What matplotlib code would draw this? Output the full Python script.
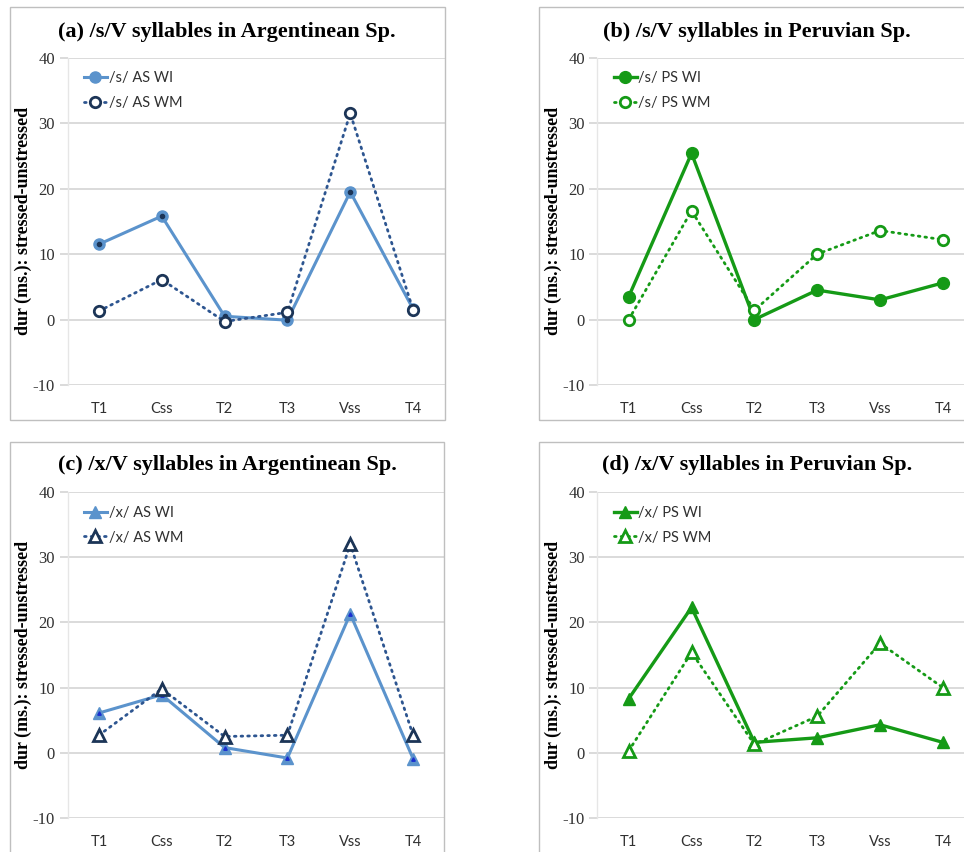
import matplotlib.pyplot as plt
from matplotlib.patches import Rectangle

plt.rcParams["axes.unicode_minus"] = False

categories = ["T1", "Css", "T2", "T3", "Vss", "T4"]

# (a) /s/ Argentinean
s_as_wi = [11.5, 15.8, 0.5, -0.1, 19.5, 1.6]
s_as_wm = [1.3, 6.1, -0.3, 1.1, 31.5, 1.5]
# (b) /s/ Peruvian
s_ps_wi = [3.5, 25.4, 0.0, 4.5, 3.0, 5.6]
s_ps_wm = [0.0, 16.6, 1.4, 10.0, 13.6, 12.2]
# (c) /x/ Argentinean
x_as_wi = [6.1, 8.9, 0.8, -0.8, 21.3, -0.9]
x_as_wm = [2.7, 9.8, 2.5, 2.7, 32.0, 2.7]
# (d) /x/ Peruvian
x_ps_wi = [8.3, 22.3, 1.6, 2.3, 4.3, 1.6]
x_ps_wm = [0.3, 15.4, 1.3, 5.6, 16.8, 10.0]

titles = ["(a) /s/V syllables in Argentinean Sp.",
          "(b) /s/V syllables in Peruvian Sp.",
          "(c) /x/V syllables in Argentinean Sp.",
          "(d) /x/V syllables in Peruvian Sp."]
labels = [("/s/ AS WI", "/s/ AS WM"), ("/s/ PS WI", "/s/ PS WM"),
          ("/x/ AS WI", "/x/ AS WM"), ("/x/ PS WI", "/x/ PS WM")]
ylabel = "dur (ms.): stressed-unstressed"

lightblue = "#5b93cc"
navy = "#1c3557"
dotblue = "#2d5590"
green = "#159a16"
SERIF = "Liberation Serif"
SANS = "Lato"

W, H = 964, 852
fig = plt.figure(figsize=(W / 100, H / 100), dpi=100)


def fx(px):
    return px / W


def fy(py):
    return 1 - py / H


# panel frames (left, top, right, bottom) in pixels
frames = [(10, 7, 445, 420), (539, 7, 1000, 420), (10, 442, 444, 900), (539, 442, 1000, 900)]
for l, t, r, b in frames:
    fig.patches.append(Rectangle((fx(l), fy(b)), fx(r - l), fy(t) - fy(b),
                                 transform=fig.transFigure, fill=False,
                                 edgecolor="#bfbfbf", lw=1.0, zorder=0))

# axes: left px, top px (y=40), bottom px (y=-10)
axpos = [(67.5, 57.7, 385), (597.3, 57.7, 385), (67.5, 492, 818), (597.3, 492, 818)]
width_px = 377
title_pos = [(227, 32), (757, 32), (227, 465), (757, 465)]
ylab_x = [23, 553, 23, 553]

data = [(s_as_wi, s_as_wm), (s_ps_wi, s_ps_wm), (x_as_wi, x_as_wm), (x_ps_wi, x_ps_wm)]

for i in range(4):
    l, t, b = axpos[i]
    ax = fig.add_axes([fx(l), fy(b), fx(width_px), fy(t) - fy(b)])
    wi, wm = data[i]
    xs = range(len(categories))
    marker = "o" if i < 2 else "^"
    if i % 2 == 0:
        ax.plot(xs, wi, color=lightblue, lw=2.2, marker=marker, ms=8 if marker == "o" else 8.5,
                mfc=lightblue, mec=lightblue, label=labels[i][0], zorder=3)
        ax.plot(xs, wi, ls="none", marker="o" if marker == "o" else "^",
                ms=3 if marker == "o" else 2.5, color=navy if marker == "o" else "#1a2fd0", zorder=4)
        ax.plot(xs, wm, color=dotblue, lw=2, ls=(0, (0.6, 1.8)), dash_capstyle="round",
                marker=marker, ms=7.5 if marker == "o" else 8, mfc="white", mec=navy, mew=2,
                label=labels[i][1], zorder=5)
    else:
        ax.plot(xs, wi, color=green, lw=2.4, marker=marker, ms=8.5 if marker == "o" else 9,
                mfc=green, mec=green, label=labels[i][0], zorder=3)
        ax.plot(xs, wm, color=green, lw=2, ls=(0, (0.6, 1.8)), dash_capstyle="round",
                marker=marker, ms=7.5 if marker == "o" else 8, mfc="white", mec=green, mew=2,
                label=labels[i][1], zorder=4)

    ax.set_xlim(-0.5, 5.5)
    ax.set_ylim(-10, 40)
    ax.set_yticks([-10, 0, 10, 20, 30, 40])
    ax.yaxis.grid(True, color="#d4d4d4", lw=1.2)
    ax.set_axisbelow(True)
    for s in ["top", "right", "bottom"]:
        ax.spines[s].set_visible(False)
    ax.spines["left"].set_color("#e6e6e6")
    ax.spines["left"].set_linewidth(1.0)
    ax.set_xticks(list(xs))
    ax.set_xticklabels(categories, family=SANS, fontsize=10.5, color="#303030")
    ax.tick_params(axis="x", length=0, pad=12)
    ax.tick_params(axis="y", length=6, color="#d4d4d4", width=1.2, pad=3,
                   labelsize=12, labelcolor="#303030")
    for lab in ax.get_yticklabels():
        lab.set_family(SERIF)
    ax.set_facecolor("none")

    leg = ax.legend(loc="upper left", frameon=False, prop={"family": SANS, "size": 10.5},
                    handlelength=1.6, handletextpad=0.1, labelspacing=0.75,
                    bbox_to_anchor=(0.02, 0.985), borderaxespad=0.2)
    for txt in leg.get_texts():
        txt.set_color("#303030")

    tx, ty = title_pos[i]
    fig.text(fx(tx), fy(ty), titles[i], ha="center", va="center", family=SERIF,
             weight="bold", fontsize=16)
    fig.text(fx(ylab_x[i]), (fy(t) + fy(b)) / 2, ylabel, rotation=90, ha="center",
             va="center", family=SERIF, weight="bold", fontsize=13)

fig.savefig("out.png", dpi=100)
